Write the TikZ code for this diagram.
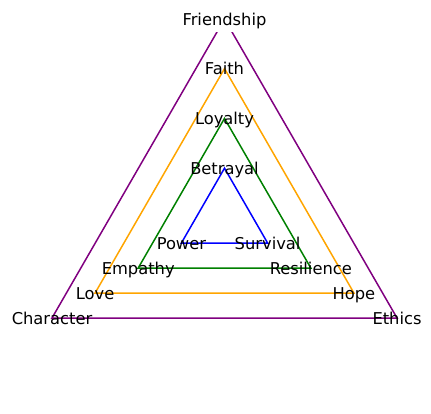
\documentclass[tikz,border=0pt]{standalone}
\usepackage{fontspec}
\setmainfont{DejaVu Sans}
\definecolor{mpurple}{RGB}{128,0,128}
\definecolor{morange}{RGB}{255,165,0}
\definecolor{mgreen}{RGB}{0,128,0}
\definecolor{mblue}{RGB}{0,0,255}
\begin{document}
\begin{tikzpicture}[x=1pt,y=-1pt,
  tri/.style={line width=1.5pt,line join=miter},
  lbl/.style={inner sep=0pt,text height=0.76em,text depth=0.236em,font=\fontsize{16.3}{19}\selectfont,anchor=center,yshift=-3.5pt}]
\useasboundingbox (0,0) rectangle (431,413);
% vertices
\coordinate (P1) at (224.5,19);
\coordinate (P2) at (52,318);
\coordinate (P3) at (397,318);
\coordinate (O1) at (224.5,68.6);
\coordinate (O2) at (95.1,293);
\coordinate (O3) at (353.9,293);
\coordinate (G1) at (224.5,118.4);
\coordinate (G2) at (138.2,268);
\coordinate (G3) at (310.8,268);
\coordinate (B1) at (224.5,168.2);
\coordinate (B2) at (181.4,243);
\coordinate (B3) at (267.6,243);
\begin{scope}
\clip (0,32.5) rectangle (431,413);
\draw[tri,mpurple] (P1) -- (P2) -- (P3) -- cycle;
\draw[tri,morange] (O1) -- (O2) -- (O3) -- cycle;
\draw[tri,mgreen] (G1) -- (G2) -- (G3) -- cycle;
\draw[tri,mblue] (B1) -- (B2) -- (B3) -- cycle;
\end{scope}
\node[lbl] (friendship) at (P1) {Friendship};
\node[lbl] (character) at (P2) {Character};
\node[lbl] (ethics) at (P3) {Ethics};
\node[lbl] (faith) at (O1) {Faith};
\node[lbl] (love) at (O2) {Love};
\node[lbl] (hope) at (O3) {Hope};
\node[lbl] (loyalty) at (G1) {Loyalty};
\node[lbl] (empathy) at (G2) {Empathy};
\node[lbl] (resilience) at (G3) {Resilience};
\node[lbl] (betrayal) at (B1) {Betrayal};
\node[lbl] (power) at (B2) {Power};
\node[lbl] (survival) at (B3) {Survival};
\end{tikzpicture}
\end{document}
